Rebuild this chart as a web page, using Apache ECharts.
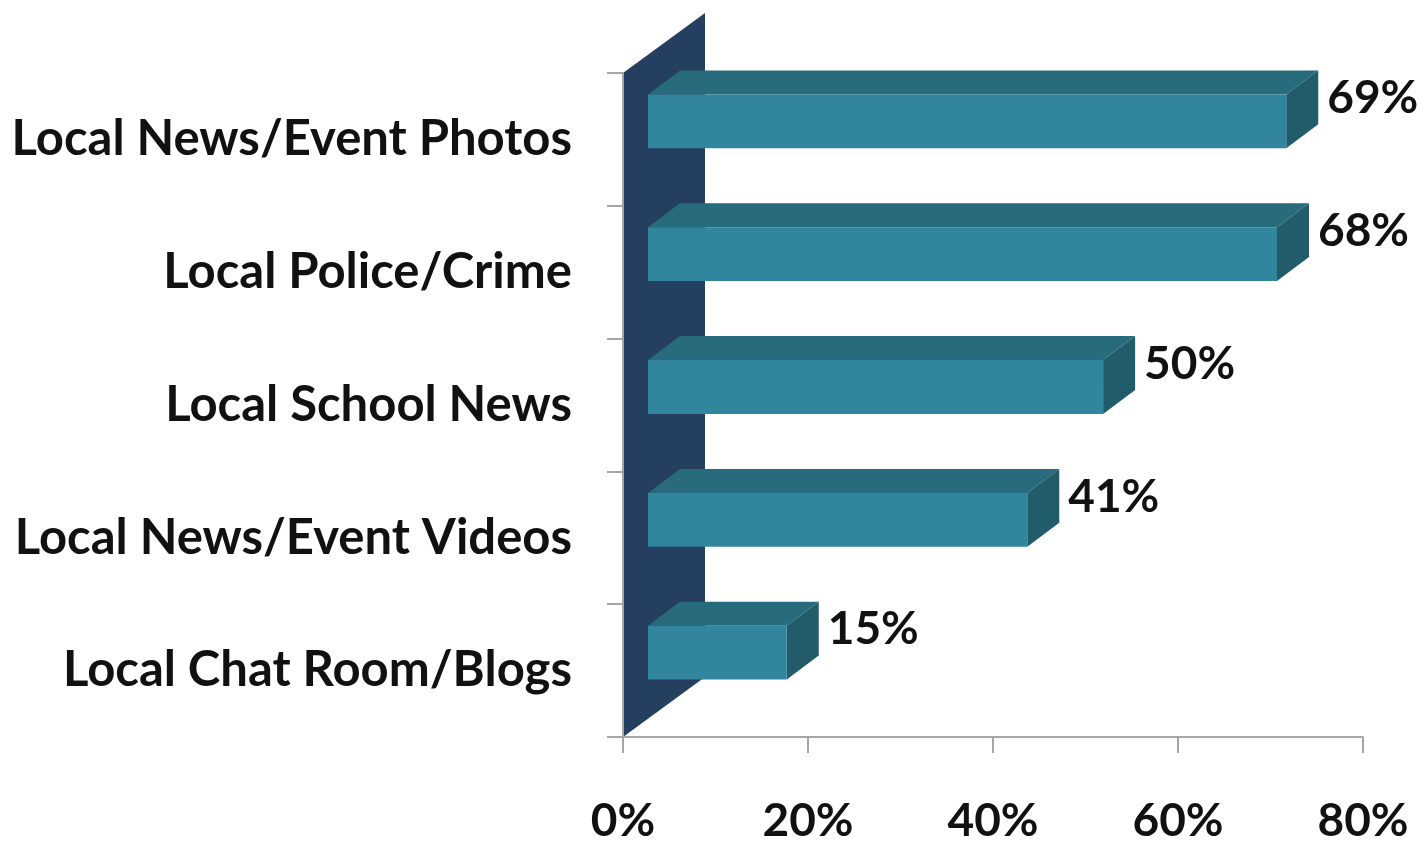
<!DOCTYPE html>
<html>
<head>
<meta charset="utf-8">
<title>Local content interest</title>
<script src="https://cdn.jsdelivr.net/npm/echarts@6/dist/echarts.min.js"></script>
<style>
  html, body { margin: 0; padding: 0; background: #fff; }
  #chart { width: 1425px; height: 844px; }
</style>
</head>
<body>
<div id="chart"></div>
<script>
// data
const categories = ['Local News/Event Photos', 'Local Police/Crime', 'Local School News', 'Local News/Event Videos', 'Local Chat Room/Blogs'];
const values = [69, 68, 49.2, 41, 15];
const valueLabels = ['69%', '68%', '50%', '41%', '15%'];
const xTickValues = [0, 20, 40, 60, 80];

// 3d look (pixels)
const WALL_DX = 82, WALL_DY = -60;   // depth of the side wall
const BAR_OX = 25, BAR_OY = -18;     // where the bar sits inside the depth
const BAR_DX = 32, BAR_DY = -24;     // bar thickness in depth

const FONT = 'Lato, "Open Sans", sans-serif';

let chartDom = document.getElementById('chart');
let myChart = echarts.init(chartDom);

function renderWall(params, api) {
  let cs = params.coordSys;
  let x = cs.x, y0 = cs.y, y1 = cs.y + cs.height;
  return {
    type: 'polygon',
    shape: {
      points: [[x, y0], [x + WALL_DX, y0 + WALL_DY], [x + WALL_DX, y1 + WALL_DY], [x, y1]]
    },
    style: { fill: '#243F5F' }
  };
}

function renderBar(params, api) {
  let cat = api.value(1);
  let start = api.coord([0, cat]);
  let end = api.coord([api.value(0), cat]);
  let h = api.size([0, 1])[1] * 0.405;
  let x0 = start[0] + BAR_OX;
  let x1 = end[0] + BAR_OX;
  let yTop = start[1] - h / 2 + BAR_OY;
  let yBot = yTop + h;
  return {
    type: 'group',
    children: [
      {
        type: 'polygon',
        shape: { points: [[x0, yTop], [x0 + BAR_DX, yTop + BAR_DY], [x1 + BAR_DX, yTop + BAR_DY], [x1, yTop]] },
        style: { fill: '#276B7C' }
      },
      {
        type: 'polygon',
        shape: { points: [[x1, yTop], [x1 + BAR_DX, yTop + BAR_DY], [x1 + BAR_DX, yBot + BAR_DY], [x1, yBot]] },
        style: { fill: '#225B6A' }
      },
      {
        type: 'rect',
        shape: { x: x0, y: yTop, width: x1 - x0, height: h },
        style: { fill: '#31859C' }
      },
      {
        type: 'text',
        x: x1 + BAR_DX + 9,
        y: yTop + h / 2 - 23,
        style: {
          text: valueLabels[params.dataIndex],
          fill: '#111',
          font: 'bold 46px ' + FONT,
          verticalAlign: 'middle',
          align: 'left'
        }
      }
    ]
  };
}

let option = {
  backgroundColor: '#fff',
  animation: false,
  grid: { left: 623, right: 62, top: 73, bottom: 104, containLabel: false },
  xAxis: {
    type: 'value',
    min: xTickValues[0],
    max: xTickValues[xTickValues.length - 1],
    interval: 20,
    splitLine: { show: false },
    axisLine: { show: true, lineStyle: { color: '#A6A6A6', width: 2 } },
    axisTick: { show: true, length: 16, lineStyle: { color: '#A6A6A6', width: 2 } },
    axisLabel: {
      formatter: '{value}%',
      color: '#111',
      fontFamily: FONT,
      fontWeight: 'bold',
      fontSize: 46,
      margin: 61
    },
    z: 5
  },
  yAxis: {
    type: 'category',
    data: categories,
    inverse: true,
    axisLine: { show: true, lineStyle: { color: '#A6A6A6', width: 2 } },
    axisTick: { show: true, length: 16, lineStyle: { color: '#A6A6A6', width: 2 } },
    axisLabel: {
      color: '#111',
      fontFamily: FONT,
      fontWeight: 'bold',
      fontSize: 49,
      margin: 51
    },
    z: 5
  },
  series: [
    {
      name: 'wall',
      type: 'custom',
      renderItem: renderWall,
      data: [[0, 0]],
      silent: true,
      z: 1
    },
    {
      name: 'share',
      type: 'custom',
      renderItem: renderBar,
      data: values.map((v, i) => [v, i]),
      z: 2
    }
  ]
};

myChart.setOption(option);
</script>
</body>
</html>
